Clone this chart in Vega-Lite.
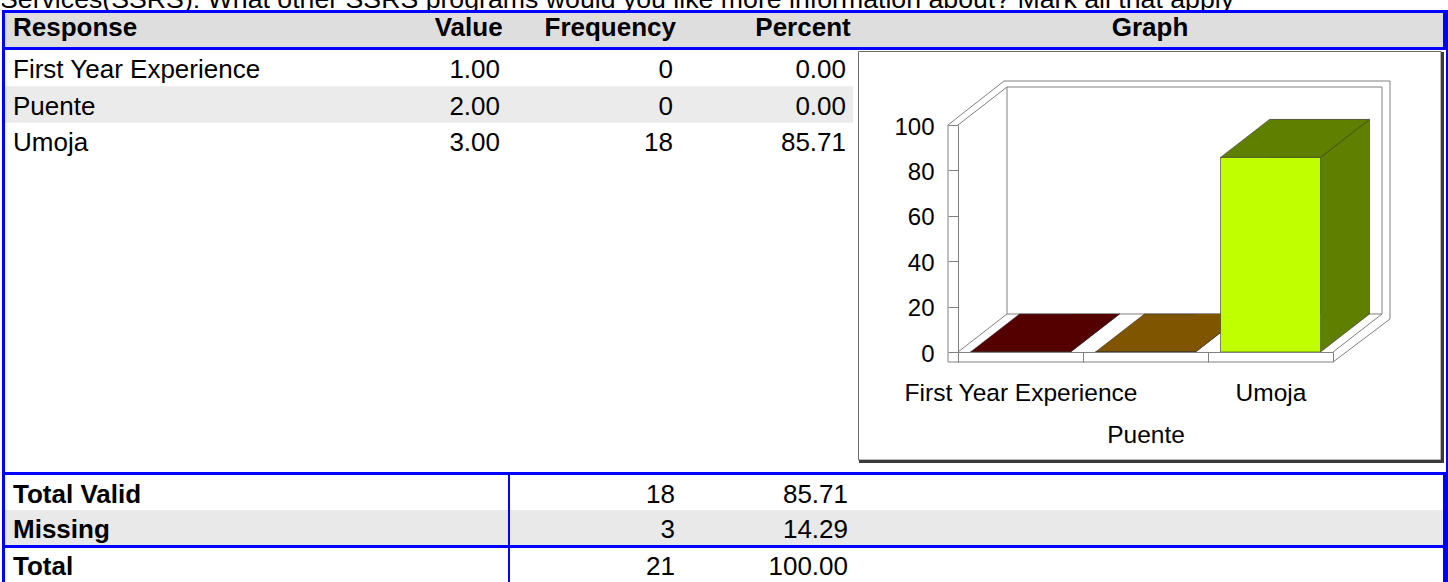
{
  "$schema": "https://vega.github.io/schema/vega-lite/v6.json",
  "padding": {"left": 2, "top": 0, "right": 0, "bottom": 0},
  "background": "#ffffff",
  "config": {"view": {"stroke": null}, "font": "Liberation Sans", "concat": {"spacing": 0}},
  "datasets": {
    "responses": [
      {"Response": "First Year Experience", "Value": 1, "Frequency": 0, "Percent": 0},
      {"Response": "Puente", "Value": 2, "Frequency": 0, "Percent": 0},
      {"Response": "Umoja", "Value": 3, "Frequency": 18, "Percent": 85.71}
    ],
    "totals": [
      {"Label": "Total Valid", "Frequency": 18, "Percent": 85.71},
      {"Label": "Missing", "Frequency": 3, "Percent": 14.29},
      {"Label": "Total", "Frequency": 21, "Percent": 100}
    ]
  },
  "spacing": 0,
  "vconcat": [
    {"width": 1446, "height": 10, "data": {"values": [{}]},
     "mark": {"type": "text", "text": "Services(SSRS): What other SSRS programs would you like more information about? Mark all that apply", "align": "left", "baseline": "alphabetic", "dx": -2, "dy": 3, "fontSize": 26.7, "color": "#000000", "clip": true},
     "encoding": {"x": {"datum": 0, "type": "quantitative", "scale": {"domain": [0, 1]}, "axis": null}}},
    {"width": 1446, "height": 3, "data": {"values": []}, "mark": "point", "view": {"fill": "#0000ff"}},
    {"spacing": 0, "hconcat": [
      {"width": 3, "height": 34, "data": {"values": []}, "mark": "point", "view": {"fill": "#0000ff"}},
      {"width": 331, "height": 34, "view": {"fill": "#dedede"}, "data": {"values": [{}]},
       "mark": {"type": "text", "text": "Response", "align": "left", "baseline": "alphabetic", "dx": 8, "dy": 5.6, "fontSize": 26, "fontWeight": "bold", "color": "#000000"},
       "encoding": {"x": {"datum": 0, "type": "quantitative", "scale": {"domain": [0, 1]}, "axis": null}}},
      {"width": 172, "height": 34, "view": {"fill": "#dedede"}, "data": {"values": [{}]},
       "mark": {"type": "text", "text": "Value", "align": "right", "baseline": "alphabetic", "dx": -5.4, "dy": 5.6, "fontSize": 26, "fontWeight": "bold", "color": "#000000"},
       "encoding": {"x": {"datum": 1, "type": "quantitative", "scale": {"domain": [0, 1]}, "axis": null}}},
      {"width": 172, "height": 34, "view": {"fill": "#dedede"}, "data": {"values": [{}]},
       "mark": {"type": "text", "text": "Frequency", "align": "right", "baseline": "alphabetic", "dx": -4, "dy": 5.6, "fontSize": 26, "fontWeight": "bold", "color": "#000000"},
       "encoding": {"x": {"datum": 1, "type": "quantitative", "scale": {"domain": [0, 1]}, "axis": null}}},
      {"width": 177, "height": 34, "view": {"fill": "#dedede"}, "data": {"values": [{}]},
       "mark": {"type": "text", "text": "Percent", "align": "right", "baseline": "alphabetic", "dx": -6.3, "dy": 5.6, "fontSize": 26, "fontWeight": "bold", "color": "#000000"},
       "encoding": {"x": {"datum": 1, "type": "quantitative", "scale": {"domain": [0, 1]}, "axis": null}}},
      {"width": 586, "height": 34, "view": {"fill": "#dedede"}, "data": {"values": [{}]},
       "mark": {"type": "text", "text": "Graph", "align": "center", "baseline": "alphabetic", "dy": 5.6, "fontSize": 26, "fontWeight": "bold", "color": "#000000"}},
      {"width": 5, "height": 34, "data": {"values": []}, "mark": "point", "view": {"fill": "#0000ff"}}
    ]},
    {"width": 1446, "height": 3, "data": {"values": []}, "mark": "point", "view": {"fill": "#0000ff"}},
    {"spacing": 0, "hconcat": [
      {"width": 3, "height": 422, "data": {"values": []}, "mark": "point", "view": {"fill": "#0000ff"}},
      {"spacing": 0, "vconcat": [
        {"spacing": 0, "hconcat": [
          {"width": 331, "height": 109, "data": {"name": "responses"},
           "encoding": {"y": {"field": "Response", "type": "nominal", "sort": null, "axis": null}},
           "layer": [
             {"mark": {"type": "rect"}, "encoding": {"x": {"datum": 0, "type": "quantitative", "scale": {"domain": [0, 1]}, "axis": null}, "x2": {"datum": 1}, "color": {"condition": {"test": "datum.Response === 'Puente'", "value": "#ebebeb"}, "value": "transparent"}}},
             {"mark": {"type": "text", "align": "left", "baseline": "alphabetic", "dx": 8, "dy": 10, "fontSize": 26, "color": "#000000"},
              "encoding": {"x": {"datum": 0, "type": "quantitative", "scale": {"domain": [0, 1]}, "axis": null}, "text": {"field": "Response", "type": "nominal"}}}
           ]},
          {"width": 172, "height": 109, "data": {"name": "responses"},
           "encoding": {"y": {"field": "Response", "type": "nominal", "sort": null, "axis": null}},
           "layer": [
             {"mark": {"type": "rect"}, "encoding": {"x": {"datum": 0, "type": "quantitative", "scale": {"domain": [0, 1]}, "axis": null}, "x2": {"datum": 1}, "color": {"condition": {"test": "datum.Response === 'Puente'", "value": "#ebebeb"}, "value": "transparent"}}},
             {"mark": {"type": "text", "align": "right", "baseline": "alphabetic", "dx": -8, "dy": 10, "fontSize": 26, "color": "#000000"},
              "encoding": {"x": {"datum": 1, "type": "quantitative", "scale": {"domain": [0, 1]}, "axis": null}, "text": {"field": "Value", "type": "quantitative", "format": ".2f"}}}
           ]},
          {"width": 172, "height": 109, "data": {"name": "responses"},
           "encoding": {"y": {"field": "Response", "type": "nominal", "sort": null, "axis": null}},
           "layer": [
             {"mark": {"type": "rect"}, "encoding": {"x": {"datum": 0, "type": "quantitative", "scale": {"domain": [0, 1]}, "axis": null}, "x2": {"datum": 1}, "color": {"condition": {"test": "datum.Response === 'Puente'", "value": "#ebebeb"}, "value": "transparent"}}},
             {"mark": {"type": "text", "align": "right", "baseline": "alphabetic", "dx": -7, "dy": 10, "fontSize": 26, "color": "#000000"},
              "encoding": {"x": {"datum": 1, "type": "quantitative", "scale": {"domain": [0, 1]}, "axis": null}, "text": {"field": "Frequency", "type": "quantitative", "format": "d"}}}
           ]},
          {"width": 177, "height": 109, "data": {"name": "responses"},
           "encoding": {"y": {"field": "Response", "type": "nominal", "sort": null, "axis": null}},
           "layer": [
             {"mark": {"type": "rect", "x2Offset": -4}, "encoding": {"x": {"datum": 0, "type": "quantitative", "scale": {"domain": [0, 1]}, "axis": null}, "x2": {"datum": 1}, "color": {"condition": {"test": "datum.Response === 'Puente'", "value": "#ebebeb"}, "value": "transparent"}}},
             {"mark": {"type": "text", "align": "right", "baseline": "alphabetic", "dx": -11, "dy": 10, "fontSize": 26, "color": "#000000"},
              "encoding": {"x": {"datum": 1, "type": "quantitative", "scale": {"domain": [0, 1]}, "axis": null}, "text": {"field": "Percent", "type": "quantitative", "format": ".2f"}}}
           ]}
        ]},
        {"width": 852, "height": 313, "data": {"values": []}, "mark": "point"}
      ]},
      {"width": 586, "height": 422,
       "data": {"name": "responses"},
       "resolve": {"scale": {"x": "independent", "color": "independent"}},
       "layer": [
            {"mark": {"type": "bar", "width": {"band": 0.8}, "stroke": "#333333", "strokeWidth": 0.6},
             "encoding": {
               "x": {"field": "Response", "type": "nominal", "sort": null, "scale": {"type": "band", "paddingInner": 0, "paddingOuter": 0, "range": [100, 475]},
                     "axis": {"orient": "bottom", "offset": -120, "title": null, "tickBand": "extent", "tickSize": 10, "tickColor": "#808080", "domainColor": "#808080", "labelFontSize": 24.5, "labelColor": "#000000",
                              "labelPadding": {"condition": {"test": "datum.value === 'Puente'", "value": 61}, "value": 19},
                              "labelAngle": 0, "labelLimit": 0, "labelOverlap": false, "zindex": 1}},
               "y": {"field": "Percent", "type": "quantitative", "scale": {"domain": [0, 100], "nice": false, "range": [302, 75]},
                     "axis": {"orient": "left", "offset": -100, "title": null, "values": [0, 20, 40, 60, 80, 100], "tickSize": 10, "tickColor": "#808080", "domainColor": "#808080", "labelFontSize": 24, "labelColor": "#000000", "labelPadding": 14, "labelOffset": 2, "grid": false, "zindex": 1}},
               "y2": {"datum": 0},
               "opacity": {"value": 0},
               "color": {"field": "Response", "type": "nominal", "sort": null, "scale": {"range": ["#aa0000", "#ffaa00", "#bfff00"]}, "legend": null}}},
            {"data": {"values": [{}]}, "mark": {"type": "rect", "filled": false, "stroke": "#6e6e6e", "strokeWidth": 1, "xOffset": -99.5, "x2Offset": 108, "yOffset": -73.5, "y2Offset": 108},
             "encoding": {"x": {"datum": 0, "type": "quantitative", "scale": {"domain": [0, 3], "range": [100, 475]}, "axis": null}, "x2": {"datum": 3}, "y": {"datum": 100, "type": "quantitative"}, "y2": {"datum": 0}}},
            {"data": {"values": [{}]}, "mark": {"type": "rule", "color": "#3a3a3a", "strokeWidth": 3, "xOffset": 109.5, "yOffset": -73, "y2Offset": 111},
             "encoding": {"x": {"datum": 3, "type": "quantitative", "scale": {"domain": [0, 3], "range": [100, 475]}, "axis": null}, "y": {"datum": 100, "type": "quantitative"}, "y2": {"datum": 0}}},
            {"data": {"values": [{}]}, "mark": {"type": "rule", "color": "#3a3a3a", "strokeWidth": 3, "xOffset": -99, "x2Offset": 111, "yOffset": 109.5},
             "encoding": {"x": {"datum": 0, "type": "quantitative", "scale": {"domain": [0, 3], "range": [100, 475]}, "axis": null}, "x2": {"datum": 3}, "y": {"datum": 0, "type": "quantitative"}}},
            {"data": {"values": [{}]}, "mark": {"type": "rule", "color": "#808080", "strokeWidth": 1, "xOffset": 46, "x2Offset": 57, "yOffset": -44},
             "encoding": {"x": {"datum": 0, "type": "quantitative", "scale": {"domain": [0, 3], "range": [100, 475]}, "axis": null}, "x2": {"datum": 3}, "y": {"datum": 100, "type": "quantitative"}}},
            {"data": {"values": [{}]}, "mark": {"type": "rule", "color": "#808080", "strokeWidth": 1, "xOffset": 57, "yOffset": -44, "y2Offset": -33},
             "encoding": {"x": {"datum": 3, "type": "quantitative", "scale": {"domain": [0, 3], "range": [100, 475]}, "axis": null}, "y": {"datum": 100, "type": "quantitative"}, "y2": {"datum": 0}}},
            {"data": {"values": [{}]}, "mark": {"type": "rect", "filled": false, "stroke": "#808080", "strokeWidth": 1, "xOffset": 49, "x2Offset": 49, "yOffset": -38, "y2Offset": -38},
             "encoding": {"x": {"datum": 0, "type": "quantitative", "scale": {"domain": [0, 3], "range": [100, 475]}, "axis": null}, "x2": {"datum": 3}, "y": {"datum": 100, "type": "quantitative"}, "y2": {"datum": 0}}},
            {"data": {"values": [{}]}, "mark": {"type": "rule", "color": "#808080", "strokeWidth": 1, "xOffset": -10, "x2Offset": 46, "y2Offset": -44},
             "encoding": {"x": {"datum": 0, "type": "quantitative", "scale": {"domain": [0, 3], "range": [100, 475]}, "axis": null}, "x2": {"datum": 0}, "y": {"datum": 100, "type": "quantitative"}, "y2": {"datum": 100}}},
            {"data": {"values": [{}]}, "mark": {"type": "rule", "color": "#808080", "strokeWidth": 1, "x2Offset": 49, "y2Offset": -38},
             "encoding": {"x": {"datum": 0, "type": "quantitative", "scale": {"domain": [0, 3], "range": [100, 475]}, "axis": null}, "x2": {"datum": 0}, "y": {"datum": 100, "type": "quantitative"}, "y2": {"datum": 100}}},
            {"data": {"values": [{}]}, "mark": {"type": "rule", "color": "#808080", "strokeWidth": 1, "x2Offset": 49, "y2Offset": -38},
             "encoding": {"x": {"datum": 0, "type": "quantitative", "scale": {"domain": [0, 3], "range": [100, 475]}, "axis": null}, "x2": {"datum": 0}, "y": {"datum": 0, "type": "quantitative"}, "y2": {"datum": 0}}},
            {"data": {"values": [{}]}, "mark": {"type": "rule", "color": "#808080", "strokeWidth": 1, "x2Offset": 49, "y2Offset": -38},
             "encoding": {"x": {"datum": 3, "type": "quantitative", "scale": {"domain": [0, 3], "range": [100, 475]}, "axis": null}, "x2": {"datum": 3}, "y": {"datum": 0, "type": "quantitative"}, "y2": {"datum": 0}}},
            {"data": {"values": [{}]}, "mark": {"type": "rule", "color": "#808080", "strokeWidth": 1, "x2Offset": 57, "yOffset": 10, "y2Offset": -33},
             "encoding": {"x": {"datum": 3, "type": "quantitative", "scale": {"domain": [0, 3], "range": [100, 475]}, "axis": null}, "x2": {"datum": 3}, "y": {"datum": 0, "type": "quantitative"}, "y2": {"datum": 0}}},
            {"data": {"values": [{}]}, "mark": {"type": "rule", "color": "#808080", "strokeWidth": 1, "xOffset": -10, "y2Offset": 10},
             "encoding": {"x": {"datum": 0, "type": "quantitative", "scale": {"domain": [0, 3], "range": [100, 475]}, "axis": null}, "y": {"datum": 100, "type": "quantitative"}, "y2": {"datum": 0}}},
            {"data": {"values": [{}]}, "mark": {"type": "rule", "color": "#808080", "strokeWidth": 1, "xOffset": -10, "yOffset": 10},
             "encoding": {"x": {"datum": 0, "type": "quantitative", "scale": {"domain": [0, 3], "range": [100, 475]}, "axis": null}, "x2": {"datum": 3}, "y": {"datum": 0, "type": "quantitative"}}},
            {"mark": {"type": "bar", "width": {"band": 0.8}, "xOffset": 49, "yOffset": -38, "y2Offset": -38},
             "encoding": {
               "x": {"field": "Response", "type": "nominal", "sort": null, "scale": {"type": "band", "paddingInner": 0, "paddingOuter": 0, "range": [100, 475]}, "axis": null},
               "y": {"field": "Percent", "type": "quantitative"},
               "y2": {"datum": 0},
               "color": {"field": "Response", "type": "nominal", "sort": null, "scale": {"range": ["#550000", "#7f5500", "#5f7f00"]}, "legend": null}}},
            {"mark": {"type": "rule", "color": "#333333", "strokeWidth": 0.6, "xOffset": 49, "yOffset": -38, "y2Offset": -38},
             "encoding": {
               "x": {"field": "Response", "type": "nominal", "sort": null, "bandPosition": 0.9, "scale": {"type": "band", "paddingInner": 0, "paddingOuter": 0, "range": [100, 475]}, "axis": null},
               "y": {"field": "Percent", "type": "quantitative"},
               "y2": {"datum": 0}}},
            {"mark": {"type": "point", "shape": "M0,0L100,0L149,-38L49,-38Z", "size": 4, "filled": true, "opacity": 1, "stroke": "#333333", "strokeWidth": 0.6},
             "encoding": {
               "x": {"field": "Response", "type": "nominal", "sort": null, "bandPosition": 0.1, "scale": {"type": "band", "paddingInner": 0, "paddingOuter": 0, "range": [100, 475]}, "axis": null},
               "y": {"field": "Percent", "type": "quantitative"},
               "color": {"field": "Response", "type": "nominal", "sort": null, "scale": {"range": ["#550000", "#7f5500", "#5f7f00"]}, "legend": null}}},
            {"mark": {"type": "point", "shape": "M0,0L0,-38L49,-38Z", "size": 4, "filled": true, "opacity": 1, "strokeWidth": 0},
             "encoding": {
               "x": {"field": "Response", "type": "nominal", "sort": null, "bandPosition": 0.9, "scale": {"type": "band", "paddingInner": 0, "paddingOuter": 0, "range": [100, 475]}, "axis": null},
               "y": {"datum": 0, "type": "quantitative"},
               "color": {"field": "Response", "type": "nominal", "sort": null, "scale": {"range": ["#550000", "#7f5500", "#5f7f00"]}, "legend": null}}},
            {"mark": {"type": "point", "shape": "M0,0L49,-38", "size": 4, "filled": false, "opacity": 1, "stroke": "#333333", "strokeWidth": 0.6},
             "encoding": {
               "x": {"field": "Response", "type": "nominal", "sort": null, "bandPosition": 0.9, "scale": {"type": "band", "paddingInner": 0, "paddingOuter": 0, "range": [100, 475]}, "axis": null},
               "y": {"datum": 0, "type": "quantitative"}}},
            {"mark": {"type": "bar", "width": {"band": 0.8}, "stroke": "#333333", "strokeWidth": 0.6},
             "encoding": {
               "x": {"field": "Response", "type": "nominal", "sort": null, "scale": {"type": "band", "paddingInner": 0, "paddingOuter": 0, "range": [100, 475]}, "axis": null},
               "y": {"field": "Percent", "type": "quantitative"},
               "y2": {"datum": 0},
               "color": {"field": "Response", "type": "nominal", "sort": null, "scale": {"range": ["#aa0000", "#ffaa00", "#bfff00"]}, "legend": null}}}
       ]},
      {"width": 5, "height": 422, "data": {"values": []}, "mark": "point", "view": {"fill": "#0000ff"}}
    ]},
    {"width": 1446, "height": 3, "data": {"values": []}, "mark": "point", "view": {"fill": "#0000ff"}},
    {"spacing": 0, "hconcat": [
      {"width": 3, "height": 70, "data": {"values": []}, "mark": "point", "view": {"fill": "#0000ff"}},
      {"width": 503, "height": 70, "data": {"name": "totals"}, "transform": [{"filter": "datum.Label !== 'Total'"}],
       "encoding": {"y": {"field": "Label", "type": "nominal", "sort": null, "axis": null}},
       "layer": [
         {"mark": {"type": "rect"}, "encoding": {"x": {"datum": 0, "type": "quantitative", "scale": {"domain": [0, 1]}, "axis": null}, "x2": {"datum": 1}, "color": {"condition": {"test": "datum.Label === 'Missing'", "value": "#e9e9e9"}, "value": "transparent"}}},
         {"mark": {"type": "text", "align": "left", "baseline": "alphabetic", "dx": 8, "dy": 10.5, "fontSize": 26, "fontWeight": "bold", "color": "#000000"},
          "encoding": {"x": {"datum": 0, "type": "quantitative", "scale": {"domain": [0, 1]}, "axis": null}, "text": {"field": "Label", "type": "nominal"}}}
       ]},
      {"width": 2, "height": 70, "data": {"values": []}, "mark": "point", "view": {"fill": "#0000ff"}},
      {"width": 170, "height": 70, "data": {"name": "totals"}, "transform": [{"filter": "datum.Label !== 'Total'"}],
       "encoding": {"y": {"field": "Label", "type": "nominal", "sort": null, "axis": null}},
       "layer": [
         {"mark": {"type": "rect"}, "encoding": {"x": {"datum": 0, "type": "quantitative", "scale": {"domain": [0, 1]}, "axis": null}, "x2": {"datum": 1}, "color": {"condition": {"test": "datum.Label === 'Missing'", "value": "#e9e9e9"}, "value": "transparent"}}},
         {"mark": {"type": "text", "align": "right", "baseline": "alphabetic", "dx": -5, "dy": 10.5, "fontSize": 26, "color": "#000000"},
          "encoding": {"x": {"datum": 1, "type": "quantitative", "scale": {"domain": [0, 1]}, "axis": null}, "text": {"field": "Frequency", "type": "quantitative", "format": "d"}}}
       ]},
      {"width": 177, "height": 70, "data": {"name": "totals"}, "transform": [{"filter": "datum.Label !== 'Total'"}],
       "encoding": {"y": {"field": "Label", "type": "nominal", "sort": null, "axis": null}},
       "layer": [
         {"mark": {"type": "rect"}, "encoding": {"x": {"datum": 0, "type": "quantitative", "scale": {"domain": [0, 1]}, "axis": null}, "x2": {"datum": 1}, "color": {"condition": {"test": "datum.Label === 'Missing'", "value": "#e9e9e9"}, "value": "transparent"}}},
         {"mark": {"type": "text", "align": "right", "baseline": "alphabetic", "dx": -9, "dy": 10.5, "fontSize": 26, "color": "#000000"},
          "encoding": {"x": {"datum": 1, "type": "quantitative", "scale": {"domain": [0, 1]}, "axis": null}, "text": {"field": "Percent", "type": "quantitative", "format": ".2f"}}}
       ]},
      {"width": 586, "height": 70, "data": {"name": "totals"}, "transform": [{"filter": "datum.Label !== 'Total'"}],
       "mark": {"type": "rect"},
       "encoding": {"y": {"field": "Label", "type": "nominal", "sort": null, "axis": null}, "x": {"datum": 0, "type": "quantitative", "scale": {"domain": [0, 1]}, "axis": null}, "x2": {"datum": 1}, "color": {"condition": {"test": "datum.Label === 'Missing'", "value": "#e9e9e9"}, "value": "transparent"}}},
      {"width": 5, "height": 70, "data": {"values": []}, "mark": "point", "view": {"fill": "#0000ff"}}
    ]},
    {"width": 1446, "height": 3, "data": {"values": []}, "mark": "point", "view": {"fill": "#0000ff"}},
    {"spacing": 0, "hconcat": [
      {"width": 3, "height": 34, "data": {"values": []}, "mark": "point", "view": {"fill": "#0000ff"}},
      {"width": 503, "height": 34, "data": {"name": "totals"}, "transform": [{"filter": "datum.Label === 'Total'"}],
       "mark": {"type": "text", "align": "left", "baseline": "alphabetic", "dx": 8, "dy": 9.5, "fontSize": 26, "fontWeight": "bold", "color": "#000000"},
       "encoding": {"x": {"datum": 0, "type": "quantitative", "scale": {"domain": [0, 1]}, "axis": null}, "text": {"field": "Label", "type": "nominal"}}},
      {"width": 2, "height": 34, "data": {"values": []}, "mark": "point", "view": {"fill": "#0000ff"}},
      {"width": 170, "height": 34, "data": {"name": "totals"}, "transform": [{"filter": "datum.Label === 'Total'"}],
       "mark": {"type": "text", "align": "right", "baseline": "alphabetic", "dx": -5, "dy": 9.5, "fontSize": 26, "color": "#000000"},
       "encoding": {"x": {"datum": 1, "type": "quantitative", "scale": {"domain": [0, 1]}, "axis": null}, "text": {"field": "Frequency", "type": "quantitative", "format": "d"}}},
      {"width": 177, "height": 34, "data": {"name": "totals"}, "transform": [{"filter": "datum.Label === 'Total'"}],
       "mark": {"type": "text", "align": "right", "baseline": "alphabetic", "dx": -9, "dy": 9.5, "fontSize": 26, "color": "#000000"},
       "encoding": {"x": {"datum": 1, "type": "quantitative", "scale": {"domain": [0, 1]}, "axis": null}, "text": {"field": "Percent", "type": "quantitative", "format": ".2f"}}},
      {"width": 586, "height": 34, "data": {"values": []}, "mark": "point"},
      {"width": 5, "height": 34, "data": {"values": []}, "mark": "point", "view": {"fill": "#0000ff"}}
    ]}
  ]
}
